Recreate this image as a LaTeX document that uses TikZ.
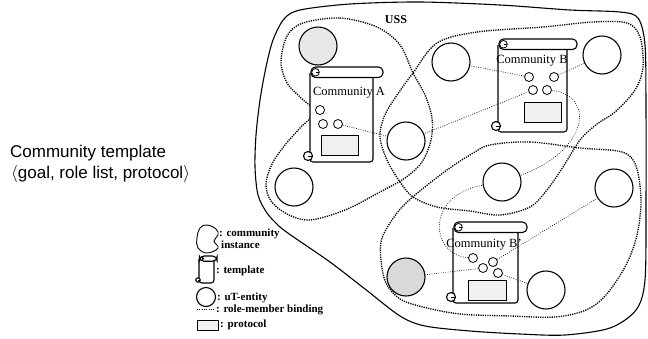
\documentclass[tikz,border=0pt]{standalone}
\usepackage{fontspec}
\setmainfont{Liberation Serif}
\newfontfamily\sansf{Liberation Sans}
\begin{document}
\begin{tikzpicture}[x=1pt,y=-1pt,
  region/.style={line width=1.35pt, dash pattern=on 1.2pt off 1.1pt},
  bind/.style={line width=0.65pt, dash pattern=on 0.8pt off 1.5pt},
  uss/.style={line width=1.1pt},
  ent/.style={circle, draw, line width=1.1pt, minimum size=38pt, inner sep=0pt, fill=white},
  sm/.style={circle, draw, line width=0.8pt, minimum size=9pt, inner sep=0pt, fill=white},
  prot/.style={draw, line width=1pt, fill=gray!12, inner sep=0pt},
  lbl/.style={font=\fontsize{12.5}{14}\selectfont, inner sep=0pt},
  leg/.style={font=\bfseries\fontsize{11}{12}\selectfont, anchor=west, inner sep=0pt},
  scrl/.style={line width=1.1pt},
  pics/scrollpic/.style n args={3}{code={
    \draw[scrl, fill=white, rounded corners=3pt] (0,6) -- (0,#2) -- (#1,#2) -- (#1,6);
    \draw[scrl, fill=white] (-2,#2-6) circle (4.5);
    \draw[line width=0.7pt] (-2,#2-6) -- (2.5,#2-6);
    \draw[scrl, fill=white, rounded corners=4.5pt] (1,0) rectangle (#1+#3,10.5);
    \draw[line width=0.8pt, fill=white] (5.5,5.25) circle (3.8);
    \draw[line width=0.7pt] (5.5,5.25) -- (9.3,5.25);
  }}
]
\useasboundingbox (0,0) rectangle (648,338);

% community instances (regions)
\draw[region] plot[smooth cycle, tension=0.55] coordinates {(303,23) (340,18) (377,27) (400,45) (413,73) (425,95) (432,118) (431,140) (422,162) (405,178) (380,192) (345,210) (310,220) (287,214) (271,201) (266,184) (272,164) (285,145) (300,128) (314,112) (300,97) (287,83) (281,62) (287,36)};
\draw[region] plot[smooth cycle, tension=0.55] coordinates {(437,43) (477,32) (543,27) (593,22) (627,23) (640,37) (643,67) (635,90) (615,112) (597,124) (580,140) (563,167) (547,190) (530,207) (500,215) (470,211) (437,207) (413,197) (400,182) (387,160) (380,137) (384,117) (395,98) (413,73)};
\draw[region] plot[smooth cycle, tension=0.55] coordinates {(490,145) (530,142) (580,148) (622,152) (636,166) (641,200) (637,235) (626,265) (606,295) (586,310) (555,317) (510,316) (460,314) (423,307) (400,299) (386,283) (381,260) (382,238) (397,213) (415,195) (447,170) (470,155)};

% USS boundary
\draw[uss] plot[smooth cycle, tension=0.5] coordinates {(300,10) (350,4) (420,2) (500,5) (570,10) (620,12) (638,18) (645,45) (646,110) (646,200) (645,280) (636,310) (610,328) (565,335) (520,334) (470,331) (425,326) (400,316) (365,289) (330,262) (295,238) (280,227) (267,213) (258,195) (255,167) (256,135) (260,100) (266,67) (273,40) (284,19)};
\node[font=\bfseries\fontsize{12}{14}\selectfont, inner sep=0pt] (uss) at (396,20) {USS};

% uT-entities
\node[ent, fill=gray!18] (e1) at (318,46) {};
\node[ent] (e2) at (406,141) {};
\node[ent] (e3) at (294,187) {};
\node[ent] (e4) at (451,62) {};
\node[ent] (e5) at (602,55) {};
\node[ent] (e6) at (502,182) {};
\node[ent] (e7) at (614,188) {};
\node[ent, fill=gray!30] (e8) at (406,277) {};
\node[ent] (e9) at (546,290) {};

% templates
\pic at (310,67) {scrollpic={63}{95}{10}};
\pic at (498,39) {scrollpic={69}{93}{10}};
\pic at (453,222) {scrollpic={65}{81}{9}};

\node[lbl] (ta) at (349,93) {Community A};
\node[lbl] (tb) at (532,61) {Community B};
\node[lbl] (tc) at (484,245) {Community B'};

% protocols
\node[prot, minimum width=37pt, minimum height=20pt] (pa) at (340,145) {};
\node[prot, minimum width=37pt, minimum height=20pt] (pb) at (543,112) {};
\node[prot, minimum width=38pt, minimum height=20pt] (pc) at (487.5,290) {};

% roles
\node[sm] (a1) at (320,110) {};
\node[sm] (a2) at (323,124) {};
\node[sm] (a3) at (338,124) {};
\node[sm] (b1) at (529,77) {};
\node[sm] (b2) at (554,77) {};
\node[sm] (b3) at (533,90) {};
\node[sm] (b4) at (547,90) {};
\node[sm] (c1) at (473,258) {};
\node[sm] (c2) at (493,262) {};
\node[sm] (c3) at (483,268) {};
\node[sm] (c4) at (498,273) {};

% role-member bindings
\draw[bind] (a3) -- (e2);
\draw[bind] (b1) -- (e4);
\draw[bind] (b2) -- (e5);
\draw[bind] (b3) -- (e2);
\draw[bind] (b4) .. controls (595,95) and (590,150) .. (e6);
\draw[bind] (c1) .. controls (430,255) and (425,195) .. (e6);
\draw[bind] (c2) -- (e7);
\draw[bind] (c3) -- (e8);
\draw[bind] (c4) -- (e9);

% left caption
\node[anchor=base west, font=\sansf\fontsize{17}{20}\selectfont, inner sep=0pt] (lt1) at (10,157) {Community template};
\node[anchor=base west, font=\sansf\fontsize{17}{20}\selectfont, inner sep=0pt] (lt2) at (11,178) {$\langle$goal, role list, protocol$\rangle$};

% legend
\draw[line width=0.9pt] plot[smooth cycle, tension=0.7] coordinates {(207,225) (216,229) (218,235) (214,241) (218,248) (207,253) (198,248) (197,238) (200,228)};
\pic[scale=0.5] at (199,256) {scrollpic={30}{54}{6}};
\node[ent, minimum size=19pt] (le) at (206,297) {};
\coordinate (l1) at (197,309);
\coordinate (l2) at (215,309);
\draw[bind] (l1) -- (l2);
\node[prot, minimum width=21pt, minimum height=10pt] (lp) at (207.5,325) {};
\node[leg] (t1) at (219,234) {: community};
\node[leg] (t2) at (221,245) {instance};
\node[leg] (t3) at (216,271) {: template};
\node[leg] (t4) at (217,298) {: uT-entity};
\node[leg] (t5) at (216,310) {: role-member binding};
\node[leg] (t6) at (220,325) {: protocol};
\end{tikzpicture}
\end{document}
